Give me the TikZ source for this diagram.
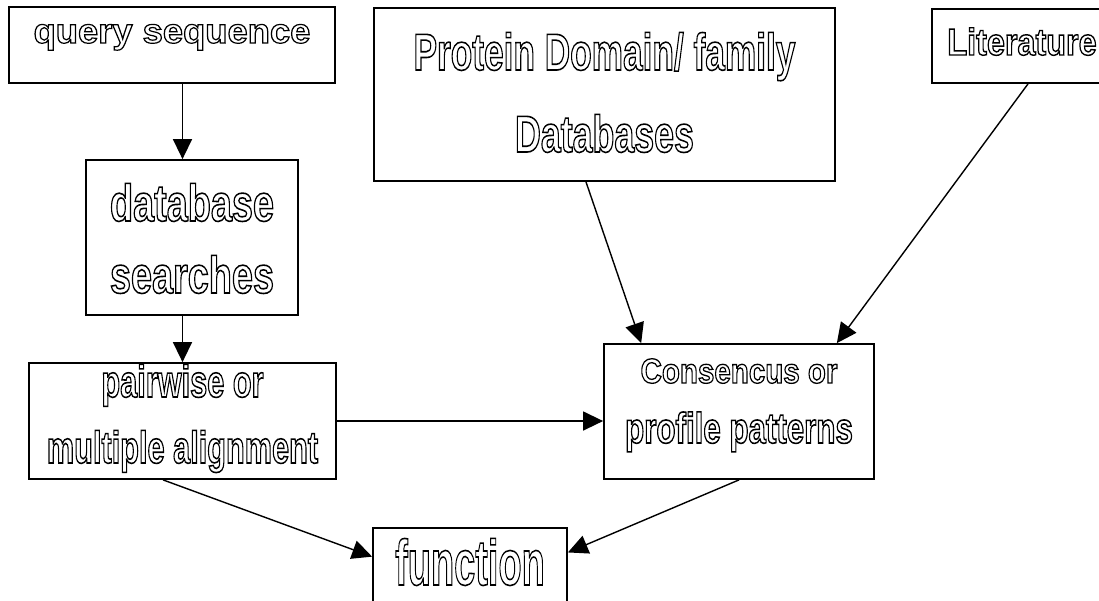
\documentclass[tikz,border=0pt]{standalone}
\usepackage{fontspec}
\setmainfont{Liberation Sans}
\usepackage{graphicx}
\usepackage{tikz}
\usetikzlibrary{arrows.meta,calc}
\newdimen\pxu \pxu=0.02cm
\def\pu{*0.02cm}
% hollow letters: stroke the glyph outlines only
\newcommand{\outl}[1]{\special{pdf:literal direct 1 Tr 0.9 w}#1\special{pdf:literal direct 0 Tr}}
% one text line: height, depth (px), size (pt), x scale, y scale, text
\newcommand{\bxl}[6]{\rule[-#2\pxu]{0pt}{\dimexpr#1\pxu+#2\pxu\relax}{\fontsize{#3}{#3}\selectfont\outl{\scalebox{#4}[#5]{#6}}}}
\newcommand{\tightlines}{\baselineskip=0pt\relax\lineskip=0pt\relax\lineskiplimit=0pt\relax}

\begin{document}
\begin{tikzpicture}[
  x=0.02cm, y=-0.02cm,
  box/.style={draw, rectangle, line width=1pt, inner sep=0pt, align=center,
              font=\bfseries, execute at begin node=\tightlines},
  arr/.style={-{Triangle[length=0.4cm, width=0.38cm]}, line width=0.8pt},
]
\useasboundingbox (0,0) rectangle (1099,600);
\clip (0,0) rectangle (1099,600);
% ---------------- boxes ----------------
\node[box, minimum width=326\pu, minimum height=76\pu] (query) at (172,45)
  {\bxl{28}{32}{26}{0.796}{0.758}{query sequence}};
\node[box, minimum width=461\pu, minimum height=173\pu] (domain) at (604.5,94.5)
  {\bxl{45}{15}{29.5}{0.68}{1}{Protein Domain/ family}\\ \bxl{67}{12}{29.5}{0.69}{1}{Databases}};
\node[box, minimum width=180\pu, minimum height=74\pu] (lit) at (1022,46)
  {\bxl{35}{17}{24}{0.767}{0.892}{Literature}};
\node[box, minimum width=212\pu, minimum height=155\pu] (dbsearch) at (192,237.5)
  {\bxl{45}{10}{29.5}{0.73}{1}{database}\\ \bxl{62}{6}{29.5}{0.73}{1}{searches}};
\node[box, minimum width=307\pu, minimum height=116\pu] (align) at (182.5,421)
  {\bxl{33}{12}{25.7}{0.68}{1}{pairwise or}\\ \bxl{54}{15}{25.7}{0.68}{1}{multiple alignment}};
\node[box, minimum width=270\pu, minimum height=135\pu] (consensus) at (739,411.5)
  {\bxl{33}{10}{24}{0.70}{0.825}{Consencus or}\\ \bxl{50}{30}{24.4}{0.73}{1}{profile patterns}};
\node[box, minimum width=194\pu, minimum height=92\pu] (func) at (470,574)
  {\bxl{53}{31}{36.6}{0.59}{1}{function}};
% ---------------- arrows ----------------
\draw[arr] (query.south -| align.north) -- (dbsearch.north -| align.north);
\draw[arr] (dbsearch.south -| align.north) -- (align.north);
\draw[arr] (align.east) -- (align.east -| consensus.west);
\draw[arr] ($(domain.south west)!0.46!(domain.south east)$) -- ($(consensus.north west)!0.14!(consensus.north east)$);
\draw[arr] ([xshift=6\pu]lit.south) -- ($(consensus.north west)!0.86!(consensus.north east)$);
\draw[arr] ($(align.south west)!0.437!(align.south east)$) -- ($(func.north west)!0.315!(func.south west)$);
\draw[arr] (consensus.south) -- ($(func.north east)!0.27!(func.south east)$);
\end{tikzpicture}
\end{document}
